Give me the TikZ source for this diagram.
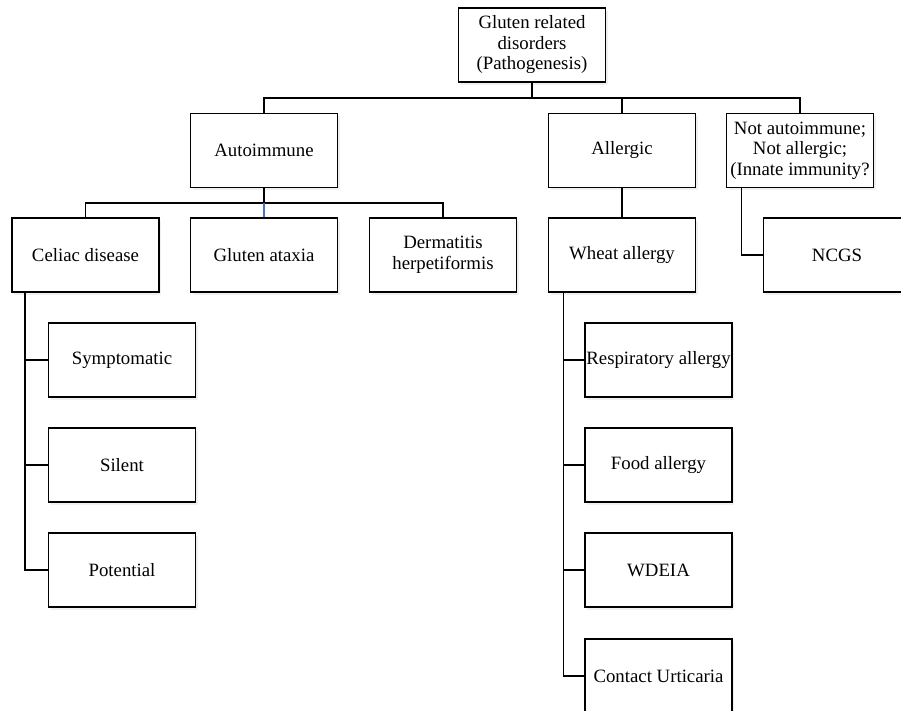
\documentclass[tikz,border=0pt]{standalone}
\usepackage{fontspec}
\setmainfont{Liberation Serif}
\usetikzlibrary{shadows}
\definecolor{linkblue}{RGB}{68,114,196}
\tikzset{
  box/.style={draw, line width=1.8pt, fill=white, minimum width=147pt, minimum height=74pt,
    inner sep=1pt, align=center, font=\fontsize{18.8}{20.5}\selectfont,
    drop shadow={opacity=0.12, shadow xshift=2pt, shadow yshift=-3pt}},
  link/.style={line width=1.5pt}
}
\begin{document}
\begin{tikzpicture}[x=1pt,y=-1pt]
      \useasboundingbox (0,0) rectangle (901,711);
      % top level
      \node[box] (root) at (532,45) {Gluten related\\disorders\\(Pathogenesis)};
      \node[box] (auto) at (264,150.5) {Autoimmune};
      \node[box] (allergic) at (622,150.5) {Allergic};
      \node[box] (notai) at (800,150.5) {Not autoimmune;\\Not allergic;\\(Innate immunity?};
      % second level
      \node[box] (celiac) at (85.5,255) {Celiac disease};
      \node[box] (ataxia) at (264,255) {Gluten ataxia};
      \node[box] (derm) at (443,255) {Dermatitis\\herpetiformis};
      \node[box] (wheat) at (622,255) {Wheat allergy};
      \node[box] (ncgs) at (837,255) {NCGS};
      % celiac disease forms
      \node[box] (sympt) at (122,360) {Symptomatic};
      \node[box] (silent) at (122,465) {Silent};
      \node[box] (potential) at (122,570) {Potential};
      % wheat allergy forms
      \node[box] (resp) at (658.5,360) {Respiratory allergy};
      \node[box] (food) at (658.5,465) {Food allergy};
      \node[box] (wdeia) at (658.5,570) {WDEIA};
      \node[box] (contact) at (658.5,676) {Contact Urticaria};
      \coordinate (bus1) at (532,98);
      \coordinate (bus2) at (264,203);
      \begin{scope}[link]
        \draw (root.south) -- (bus1);
        \draw (auto.north) |- (bus1) -| (notai.north);
        \draw (allergic.north) -- (allergic.north |- bus1);
        \draw (auto.south) -- (bus2);
        \draw (celiac.north) |- (bus2) -| (derm.north);
        \draw[linkblue] (bus2) -- (ataxia.north);
        \draw (allergic.south) -- (wheat.north);
        \draw ([xshift=16pt]notai.south west) |- (ncgs.west);
        \foreach \n in {sympt,silent,potential}
          \draw ([xshift=14pt]celiac.south west) |- (\n.west);
        \foreach \n in {resp,food,wdeia,contact}
          \draw ([xshift=16pt]wheat.south west) |- (\n.west);
      \end{scope}
    \end{tikzpicture}
\end{document}
